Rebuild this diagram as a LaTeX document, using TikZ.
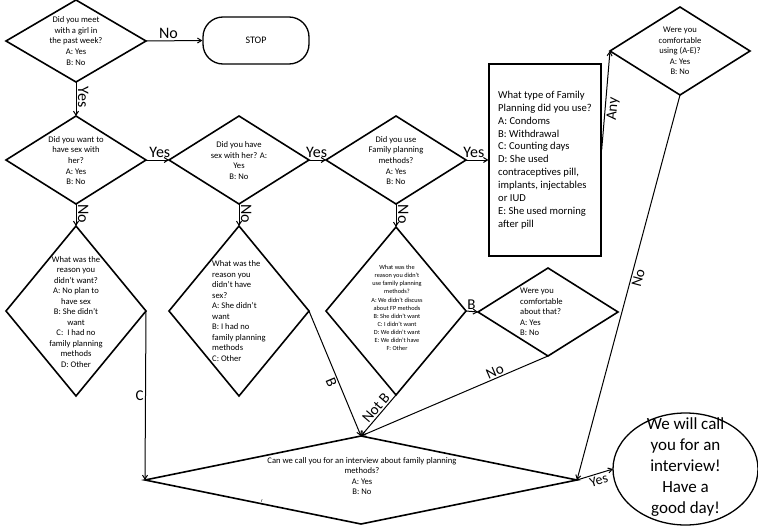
\documentclass[tikz,border=0pt]{standalone}
\usepackage{fontspec}
\setmainfont{Carlito}
\usetikzlibrary{shapes.geometric,arrows.meta,calc}
\begin{document}
\begin{tikzpicture}[x=1pt,y=-1pt,
  dia/.style={draw,shape=diamond,line width=1.6pt,inner sep=0pt,outer sep=0pt},
  conn/.style={line width=1pt,-{Straight Barb[length=4pt,width=5pt]}},
  plain/.style={line width=1pt},
  lbl/.style={font=\fontsize{16}{16}\selectfont,inner sep=1.5pt},
  slbl/.style={font=\fontsize{15}{15}\selectfont,inner sep=1.5pt},
  qtext/.style={align=center,font=\fontsize{8.6}{10.6}\selectfont,inner sep=0pt},
  ltext/.style={align=left,font=\fontsize{8.6}{10.5}\selectfont,inner sep=0pt},
]
\useasboundingbox (0,0) rectangle (758,525);

% shapes
\node[dia,minimum width=140pt,minimum height=82pt] (q1) at (76,41) {};
\node[qtext] (t1) at (76,41) {Did you meet\\with a girl in\\the past week?\\A: Yes\\B: No};
\node[draw,line width=1.3pt,rounded corners=20pt,minimum width=106pt,minimum height=47pt,font=\fontsize{10}{12}\selectfont] (stop) at (256,40.5) {STOP};

\node[dia,minimum width=140pt,minimum height=88pt] (q2) at (76,160) {};
\node[qtext] (t2) at (76,160.5) {Did you want to\\have sex with\\her?\\A: Yes\\B: No};
\node[dia,minimum width=140pt,minimum height=88pt] (q3) at (239,160) {};
\node[qtext] (t3) at (239,160.5) {Did you have\\sex with her? A:\\Yes\\B: No};
\node[dia,minimum width=140pt,minimum height=88pt] (q4) at (396,160) {};
\node[qtext] (t4) at (396,160.5) {Did you use\\Family planning\\methods?\\A: Yes\\B: No};

\node[draw,line width=1.3pt,minimum width=112pt,minimum height=192pt,inner sep=0pt,align=left,font=\fontsize{10.6}{12.9}\selectfont] (box) at (545,160) {What type of Family\\Planning did you use?\\A: Condoms\\B: Withdrawal\\C: Counting days\\D: She used\\contraceptives pill,\\implants, injectables\\or IUD\\E: She used morning\\after pill};

\node[dia,minimum width=140pt,minimum height=88pt] (q5) at (680,51) {};
\node[qtext] (t5) at (680,51) {Were you\\comfortable\\using (A-E)?\\A: Yes\\B: No};

\node[dia,minimum width=140pt,minimum height=170pt] (q2a) at (76,311) {};
\node[qtext,font=\fontsize{8.6}{10.5}\selectfont] (t2a) at (76,312) {What was the\\reason you\\didn't want?\\A: No plan to\\have sex\\B: She didn't\\want\\C:\ \ I had no\\family planning\\methods\\D: Other};
\node[dia,minimum width=140pt,minimum height=170pt] (q3a) at (239,311) {};
\node[ltext,anchor=west] (t3a) at (212,311) {What was the\\reason you\\didn't have\\sex?\\A: She didn't\\want\\B: I had no\\family planning\\methods\\C: Other};
\node[dia,minimum width=140pt,minimum height=168pt] (q4a) at (396,311) {};
\node[qtext,font=\fontsize{6.3}{8.1}\selectfont] (t4a) at (397,308) {What was the\\reason you didn't\\use family planning\\methods?\\A: We didn't discuss\\about FP methods\\B: She didn't want\\C: I didn't want\\D: We didn't want\\E: We didn't have\\F: Other};
\node[dia,minimum width=140pt,minimum height=88pt] (q7) at (548,312) {};
\node[ltext,anchor=west] (t7) at (520,312) {Were you\\comfortable\\about that?\\A: Yes\\B: No};

\node[dia,minimum width=432pt,minimum height=88pt] (q6) at (361,480) {};
\node[qtext] (t6) at (362,476) {Can we call you for an interview about family planning\\methods?\\A: Yes\\B: No};
\node[font=\fontsize{5}{5}\selectfont,inner sep=0pt] (stray) at (262,501) {r};

\node[draw,shape=ellipse,line width=1.3pt,minimum width=145pt,minimum height=112pt,inner sep=0pt,outer sep=0pt] (ell) at (685.5,469) {};
\node[align=center,font=\fontsize{17}{21}\selectfont,inner sep=0pt] (tell) at (685.5,467) {We will call\\you for an\\interview!\\Have a\\good day!};

% connectors
\draw[conn] (q1.east) -- node[lbl,pos=0.4,above] {No} (stop.west);
\draw[conn] (q1.south) -- node[lbl,pos=0.45,sloped,above] {Yes} (q2.north);
\draw[conn] (q2.east) -- node[lbl,pos=0.6,above] {Yes} (q3.west);
\draw[conn] (q3.east) -- node[lbl,pos=0.45,above] {Yes} (q4.west);
\draw[conn] (q4.east) -- node[lbl,pos=0.35,above] {Yes} (box.west);
\draw[conn] (q2.south) -- node[lbl,pos=0.45,sloped,above] {No} (q2a.north);
\draw[conn] (q3.south) -- node[lbl,pos=0.45,sloped,above] {No} (q3a.north);
\draw[conn] (q4.south) -- node[lbl,pos=0.45,sloped,above] {No} (q4a.north);
\draw[conn] ([yshift=10pt]box.east) -- node[slbl,pos=0.42,sloped,below] {Any} (q5.west);
\draw[conn] (q5.south) -- node[slbl,pos=0.47,sloped,below] {No} (q6.east);
\draw[conn] (q6.east) -- node[slbl,font=\fontsize{14}{14}\selectfont,pos=0.55,sloped,below] {Yes} (ell.west);
\draw[conn] (q2a.east) -- node[slbl,pos=0.5,left] {C} (q6.west);
\draw[conn] (q3a.east) -- node[slbl,pos=0.55,sloped,below] {B} (q6.north);
\draw[conn] (q4a.south) -- node[slbl,pos=0.42,sloped,above] {Not B} (q6.north);
\draw[conn] (q4a.east) -- node[slbl,pos=0.45,above] {B} (q7.west);
\draw[conn] (q7.south) -- node[slbl,pos=0.27,sloped,above] {No} (q6.north);
\end{tikzpicture}
\end{document}
